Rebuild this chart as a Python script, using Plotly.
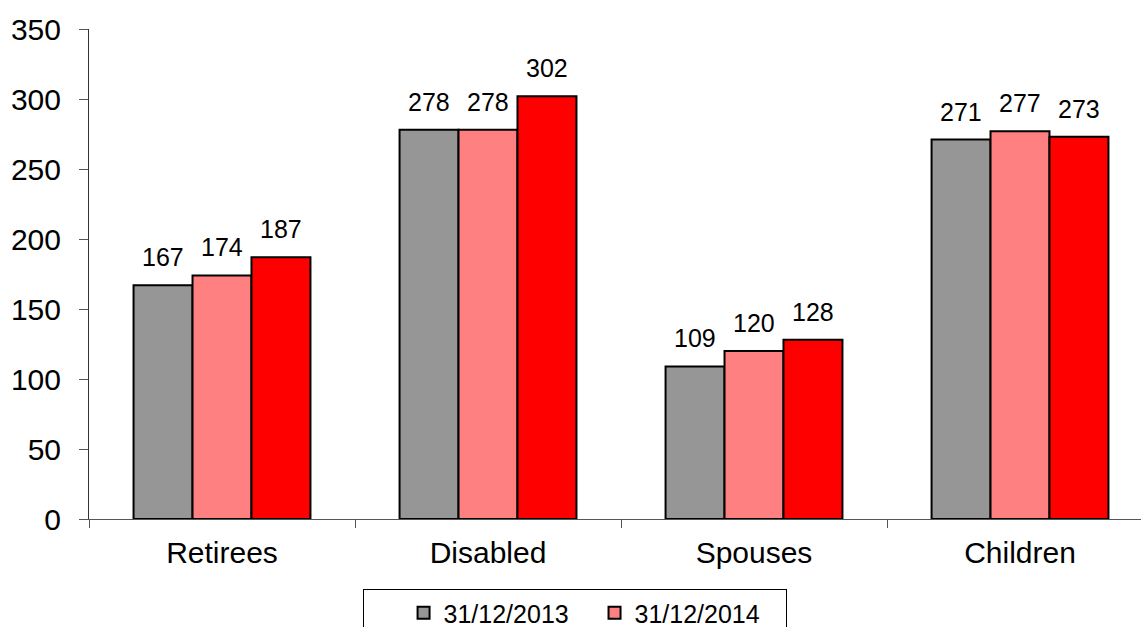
import plotly.graph_objects as go

categories = ["Retirees", "Disabled", "Spouses", "Children"]
series_names = ["31/12/2013", "31/12/2014", "31/12/2015"]
values_2013 = [167, 278, 109, 271]
values_2014 = [174, 278, 120, 277]
values_2015 = [187, 302, 128, 273]
colors = ["#969696", "#FF8080", "#FF0000"]
groups = ["a", "b", "a"]

all_values = [values_2013, values_2014, values_2015]
bargap = 0.335
bar_w = (1 - bargap) / 3
pad = "\u00a0" * 3

fig = go.Figure()
for name, vals, col, grp in zip(series_names, all_values, colors, groups):
    fig.add_trace(go.Bar(
        x=categories, y=vals, name=name + pad, legendgroup=grp,
        marker=dict(color=col, line=dict(color="#000000", width=2)),
    ))

annotations = []
for i, vals in enumerate(all_values):
    for j, v in enumerate(vals):
        annotations.append(dict(
            x=j + (i - 1) * bar_w, y=v, xref="x", yref="y",
            text=str(v), showarrow=False, yanchor="bottom",
            yshift=12, font=dict(size=25, color="#000000", family="Liberation Sans, Arial"),
        ))

fig.update_layout(
    width=1141, height=627,
    margin=dict(l=89, r=0, t=29, b=108, autoexpand=False),
    paper_bgcolor="white", plot_bgcolor="white",
    barmode="group", bargap=bargap, bargroupgap=0,
    font=dict(family="Liberation Sans, Arial", color="#000000"),
    annotations=annotations,
    showlegend=True,
    legend=dict(
        orientation="h", traceorder="grouped", tracegroupgap=0,
        xref="container", yref="container", x=363 / 1141, y=1 - 589 / 627,
        xanchor="left", yanchor="top",
        bordercolor="#000000", borderwidth=1,
        title=dict(text="\u00a0" * 5, side="left", font=dict(size=22)),
        font=dict(size=25, family="Liberation Sans, Arial", color="#000000"),
    ),
    xaxis=dict(
        range=[-0.5, -0.5 + 1052 / 266], showgrid=False,
        showline=True, linecolor="#555555", linewidth=1,
        ticks="outside", tickson="boundaries", ticklen=8, tickcolor="#555555",
        tickfont=dict(size=30), ticklabelstandoff=7,
    ),
    yaxis=dict(
        range=[0, 350], dtick=50, showgrid=False, zeroline=False,
        showline=True, linecolor="#333333", linewidth=1,
        ticks="outside", ticklen=9, tickcolor="#555555",
        tickfont=dict(size=30), ticklabelstandoff=12,
    ),
)

fig.write_html("out.html")
